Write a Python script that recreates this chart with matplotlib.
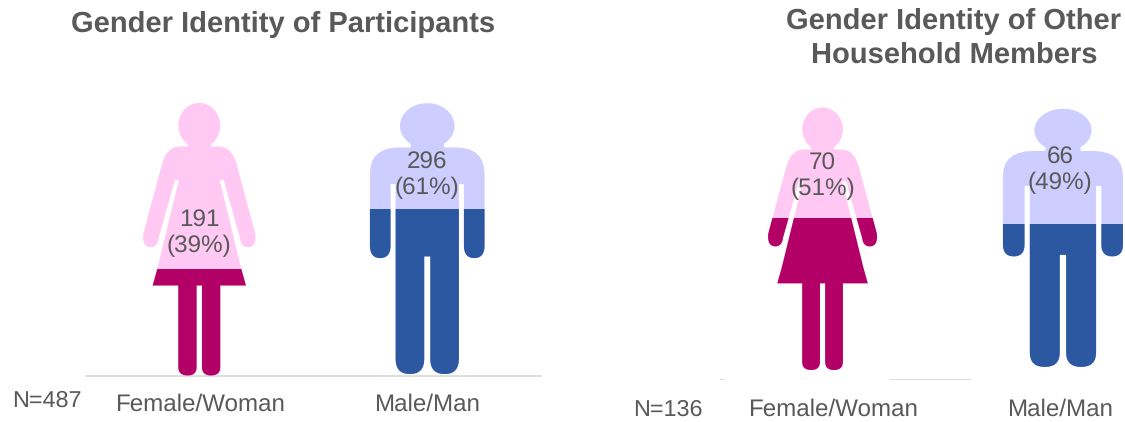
#!/usr/bin/env python3
"""
Pictogram bars: gender identity of participants and of household members.
"""

import numpy as np
import matplotlib
matplotlib.use("Agg")
import matplotlib.pyplot as plt
from matplotlib.patches import PathPatch
from matplotlib.path import Path
from matplotlib.transforms import Affine2D

W, H = 1125, 422

categories = ["Female/Woman", "Male/Man"]
participants = [191, 296]
participants_pct = [39, 61]
participants_n = 487
household = [70, 66]
household_pct = [51, 49]
household_n = 136

TEXT = "#595959"
LIGHT = ["#FFC9F3", "#CDCDFF"]
DARK = ["#B30066", "#2B58A0"]

plt.rcParams["font.family"] = ["Liberation Sans", "DejaVu Sans"]
plt.rcParams["text.hinting"] = "none"


def curve(p0, c, p1, n=8):
    t = np.linspace(0, 1, n)[:, None]
    p0, c, p1 = np.array(p0), np.array(c), np.array(p1)
    return ((1 - t) ** 2 * p0 + 2 * t * (1 - t) * c + t ** 2 * p1).tolist()


def head(rx, ry, cy, end_deg):
    a = np.radians(np.linspace(90, end_deg, 16))
    return np.column_stack([rx * np.cos(a), cy + ry * np.sin(-a)]).tolist()


def mirrored(half, bottom):
    pts = np.array(half + [[-x, y] for x, y in reversed(half[:-1])], dtype=float)
    pts[:, 1] = bottom - pts[:, 1]
    return Path(np.vstack([pts, pts[:1]]), closed=True)


# outlines traced at 3x zoom, right half only: x from centre, y from the top
woman_half = (
    head(63, 68, 105, -56)
    + [[35, 168], [60, 168]]
    + curve([60, 168], [100, 168], [115, 232])
    + [[168, 430]]
    + curve([168, 430], [172, 470], [146, 470])
    + curve([146, 470], [125, 470], [122, 442])
    + [[73, 268], [61, 268], [126, 535], [140, 585], [63, 585], [63, 830]]
    + curve([63, 830], [63, 855], [35, 855])
    + curve([35, 855], [8, 855], [8, 830])
    + [[8, 585], [0, 585]]
)
man_half = (
    head(82, 68, 105, -52)
    + [[50, 170], [85, 170]]
    + curve([85, 170], [172, 170], [172, 250])
    + [[172, 465]]
    + curve([172, 465], [172, 502], [141, 502])
    + curve([141, 502], [110, 502], [110, 465])
    + [[110, 280], [95, 280], [95, 805]]
    + curve([95, 805], [95, 850], [52, 850])
    + curve([52, 850], [9, 850], [9, 805])
    + [[9, 497], [0, 497]]
)
SHAPES = [mirrored(woman_half, 855), mirrored(man_half, 850)]


def panel(fig, x0, x1, y_base, y_top, ymax):
    ax = fig.add_axes([x0 / W, 1 - y_base / H, (x1 - x0) / W, (y_base - y_top) / H])
    ax.set_xlim(-0.5, 1.5)
    ax.set_ylim(0, ymax)
    ax.patch.set_visible(False)
    for s in ax.spines.values():
        s.set_visible(False)
    ax.set_yticks([])
    ax.set_xticks([0, 1], categories)
    ax.tick_params(axis="x", length=0, labelsize=17.4, labelcolor=TEXT)
    return ax


def draw_figures(ax, values, pcts, full, px_x, px_y, dx, lift, zx, zy, label_y):
    for i, v in enumerate(values):
        # zoomed outline units -> data units of this panel
        sx = zx[i] / 3 / px_x
        sy = zy[i] / 3 / px_y
        tr = Affine2D().scale(sx, sy).translate(i + dx[i], lift[i]) + ax.transData
        clip = PathPatch(SHAPES[i], transform=tr)
        light = ax.bar(i + dx[i], full, 0.9, bottom=lift[i], color=LIGHT[i], zorder=2)
        dark = ax.bar(i + dx[i], v, 0.9, bottom=lift[i], color=DARK[i], zorder=3)
        light[0].set_clip_path(clip)
        dark[0].set_clip_path(clip)
        ax.text(i + dx[i] * (1 if i == 0 else 0), label_y[i], f"{v}\n({pcts[i]}%)", ha="center", va="center",
                fontsize=17.5, color=TEXT, linespacing=1.17, zorder=4)


fig = plt.figure(figsize=(W / 100, H / 100), dpi=100)

# left panel
ax1 = panel(fig, 86, 541, 375.5, 103, 489)
ax1.tick_params(axis="x", pad=13)
ax1.axhline(0, color="#D9D9D9", lw=1.2, zorder=1, clip_on=False)
draw_figures(ax1, participants, participants_pct, 489, 227.5, 0.5573,
             [-0.002, 0], [0, 2.5], [1, 1], [1, 1], [255, 360])

# right panel, its axis line is broken up in the source
ax2 = panel(fig, 719.5, 1173.5, 380, 107, 125.8)
ax2.tick_params(axis="x", pad=13)
ax2.axhline(0, xmin=0, xmax=0.01, color="#D9D9D9", lw=1.2)
ax2.axhline(0, xmin=0.377, xmax=0.555, color="#D9D9D9", lw=1.2)
draw_figures(ax2, household, household_pct, 122, 227, 2.17,
             [-0.046, 0.013], [4.6, 6], [0.97, 1.047], [0.963, 0.953], [94, 96.5])

fig.text(283 / W, 1 - 24 / H, "Gender Identity of Participants", ha="center", va="center",
         fontsize=21, fontweight="bold", color=TEXT)
fig.text(954 / W, 1 - 38 / H, "Gender Identity of Other\nHousehold Members", ha="center", va="center",
         fontsize=21, fontweight="bold", color=TEXT, linespacing=1.33)
fig.text(47 / W, 1 - 401 / H, f"N={participants_n}", ha="center", va="center", fontsize=16.8, color=TEXT)
fig.text(668 / W, 1 - 410 / H, f"N={household_n}", ha="center", va="center", fontsize=16.8, color=TEXT)

fig.savefig("out.png", dpi=100)
